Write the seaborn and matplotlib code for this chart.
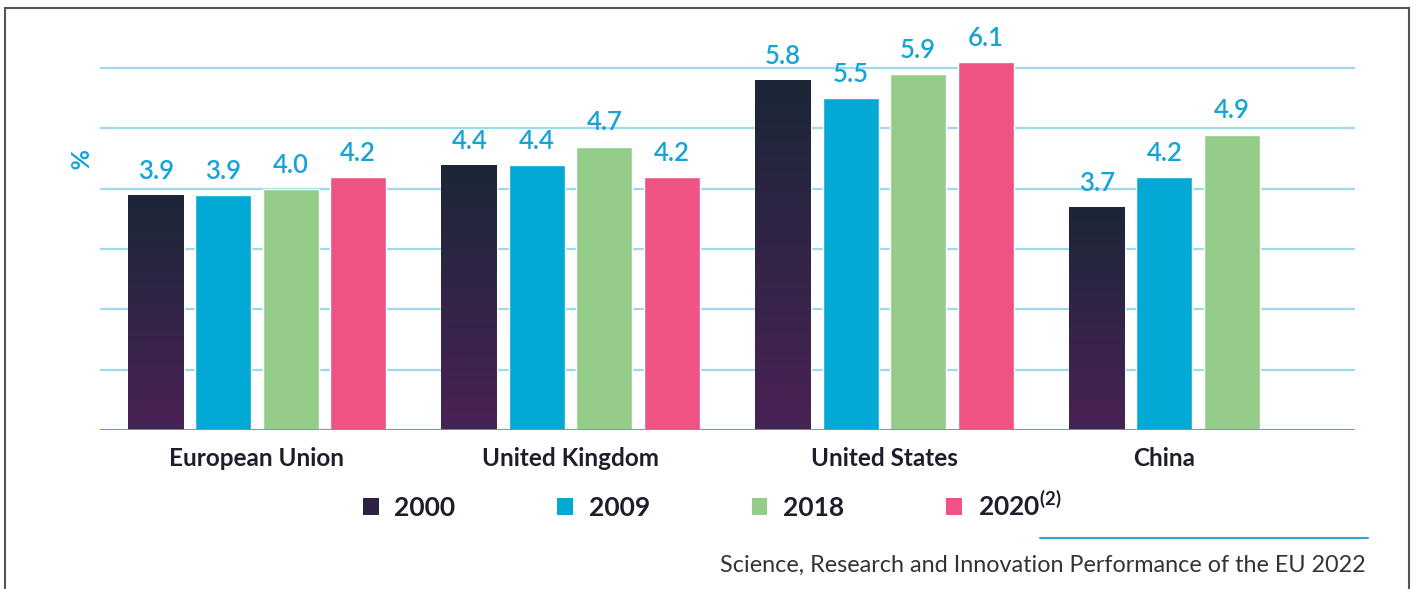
import numpy as np
import pandas as pd
import matplotlib
matplotlib.use("Agg")
import matplotlib.pyplot as plt
import seaborn as sns
from matplotlib.patches import Rectangle, Patch
from matplotlib.lines import Line2D
from matplotlib.colors import LinearSegmentedColormap

# R&D intensity by economy and year
regions = ["European Union", "United Kingdom", "United States", "China"]
years = ["2000", "2009", "2018", "2020"]
v2000 = [3.9, 4.4, 5.8, 3.7]
v2009 = [3.9, 4.4, 5.5, 4.2]
v2018 = [4.0, 4.7, 5.9, 4.9]
v2020 = [4.2, 4.2, 6.1, np.nan]
legend_labels = ["2000", "2009", "2018", "2020$^{\\mathbf{(2)}}$"]
y_label = "%"
source = "Science, Research and Innovation Performance of the EU 2022"

colors = {"2000": "#2b2340", "2009": "#03a9d5", "2018": "#94cc8a", "2020": "#ef5384"}
value_color = "#16a4d6"
text_dark = "#1d1d2b"

rows = []
for yr, vals in zip(years, [v2000, v2009, v2018, v2020]):
    for reg, v in zip(regions, vals):
        rows.append({"region": reg, "year": yr, "value": v})
df = pd.DataFrame(rows)

sns.set_theme(style="white")
plt.rcParams["font.family"] = ["Lato", "DejaVu Sans"]
plt.rcParams["mathtext.fontset"] = "custom"
plt.rcParams["mathtext.bf"] = "Lato:bold"

fig = plt.figure(figsize=(14.16, 5.89), dpi=100)
ax = fig.add_axes([100 / 1416, 1 - 430 / 589, 1255 / 1416, 398 / 589])

sns.barplot(data=df, x="region", y="value", hue="year", order=regions,
            hue_order=years, palette=colors, width=0.86, gap=0.17,
            saturation=1, errorbar=None, legend=False, ax=ax, zorder=3)

# vertical dark-navy to purple gradient on the 2000 bars
grad_cmap = LinearSegmentedColormap.from_list("navy_purple", ["#4a2256", "#1b2737"])
grad = np.linspace(0, 1, 256).reshape(-1, 1)
for bar in ax.containers[0]:
    h = bar.get_height()
    if not np.isfinite(h) or h <= 0:
        continue
    x0 = bar.get_x()
    w = bar.get_width()
    im = ax.imshow(grad, extent=[x0, x0 + w, 0, h], origin="lower",
                   aspect="auto", cmap=grad_cmap, zorder=3.5)
    im.set_clip_path(bar)

# value labels
for cont in ax.containers:
    ax.bar_label(cont, fmt="%.1f", padding=8, color=value_color,
                 fontsize=18.5, fontweight="semibold", zorder=5)

# category labels centred on the bars actually drawn
centers = {}
for cont in ax.containers:
    for bar in cont:
        h = bar.get_height()
        if np.isfinite(h) and h > 0:
            cx = bar.get_x() + bar.get_width() / 2
            idx = int(round(cx))
            centers.setdefault(idx, []).append(cx)
tick_pos = [np.mean(centers[i]) for i in range(len(regions))]
ax.set_xticks(tick_pos)
ax.set_xticklabels(regions, fontsize=17.5, fontweight="bold", color=text_dark)
ax.tick_params(axis="x", length=0, pad=12)

ax.set_xlim(-0.5, 3.5)
ax.set_ylim(0, 6.6)
ax.set_yticks(range(0, 7))
ax.set_yticklabels([])
ax.tick_params(axis="y", length=0)
ax.yaxis.grid(True, color="#9fd9ec", lw=1.6, zorder=0)
ax.set_axisbelow(True)
ax.axhline(0, color="#35acd8", lw=2, zorder=4)
for s in ax.spines.values():
    s.set_visible(False)
ax.set_xlabel("")
ax.set_ylabel("")

fig.text(76 / 1416, 1 - 160 / 589, y_label, rotation=-90, color=value_color,
         fontsize=18, fontweight="bold", ha="center", va="center")

# legend
handles = [Patch(facecolor=colors[y], edgecolor="none") for y in years]
handles[0] = Patch(facecolor="#2f2142", edgecolor="none")
leg = fig.legend(handles, legend_labels, loc="center", ncol=4,
                 bbox_to_anchor=(712 / 1416, 1 - 505 / 589), frameon=False,
                 handlelength=0.6, handleheight=0.6, handletextpad=0.6,
                 columnspacing=3.85, prop={"size": 19, "weight": "bold"})
for t in leg.get_texts():
    t.set_color(text_dark)

# source line and caption
fig.add_artist(Line2D([1040 / 1416, 1368 / 1416], [1 - 538 / 589, 1 - 538 / 589],
                      transform=fig.transFigure, color="#29a8d8", lw=1.5))
fig.text(1366 / 1416, 1 - 565 / 589, source, ha="right", va="center",
         fontsize=16.8, color="#333333")

# outer frame
fig.add_artist(Rectangle((5 / 1416, -0.05), 1404 / 1416, 1.05 - 8 / 589,
                         transform=fig.transFigure, fill=False,
                         edgecolor="#555555", lw=1.5))

fig.savefig("out.png", dpi=100)
